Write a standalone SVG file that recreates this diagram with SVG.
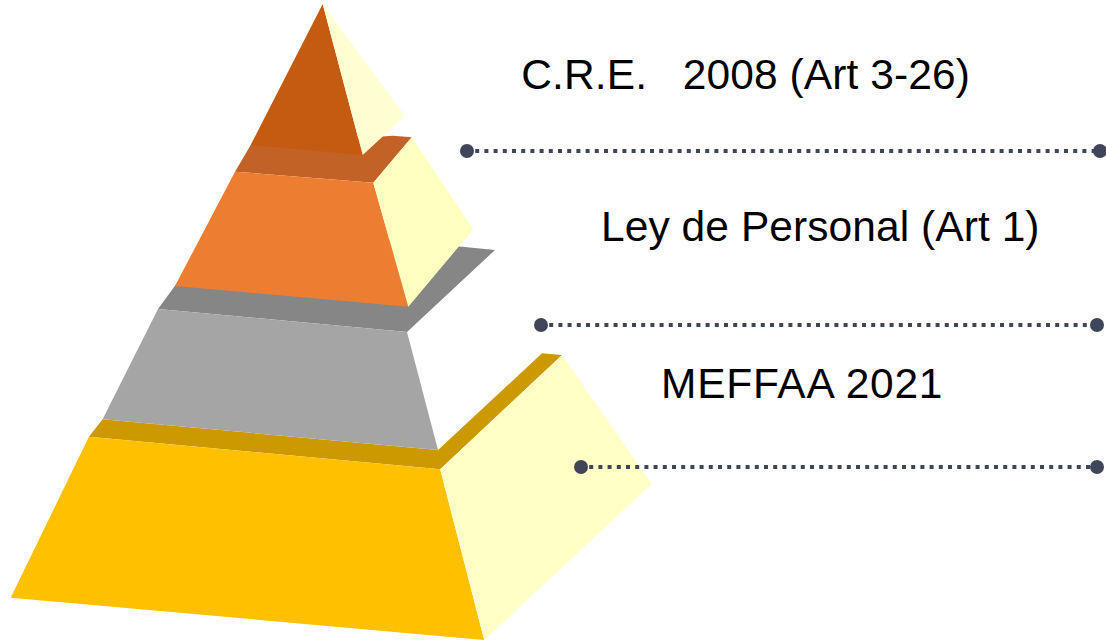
<svg xmlns="http://www.w3.org/2000/svg" width="1106" height="642" viewBox="0 0 1106 642">
  <style>
    .lbl { font-family: "Liberation Sans", Arial, sans-serif; font-size: 42.5px; fill: #000000; }
    .dotline { stroke: #404659; stroke-width: 4; stroke-dasharray: 4 5.2; fill: none; }
    .end { fill: #404659; }
  </style>
  <rect width="1106" height="642" fill="#ffffff"/>
  <g id="tier-base">
    <polygon points="102.6,419.3 438,450 542,353.3 562,355 440.2,469.3 88.9,436.7" fill="#CC9A00"/>
    <polygon points="88.9,436.7 440.2,469.3 484.2,640 10.7,597.7" fill="#FFC000"/>
    <polygon points="440.2,469.3 562,355 651.7,484 484.2,640" fill="#FFFFC6"/>
  </g>
  <g id="tier-gray">
    <polygon points="221,223 495,250 407,332 158,309" fill="#868686"/>
    <polygon points="158,309 407,332 438,450 102.6,419.3" fill="#A5A5A5"/>
  </g>
  <g id="tier-orange">
    <polygon points="250.7,145 393,135.7 411.7,137.3 373.3,182.7 235,171.7" fill="#C26226"/>
    <polygon points="235,171.7 373.3,182.7 408.3,306.7 175,286" fill="#ED7D31"/>
    <polygon points="373.3,182.7 411.7,137.3 473.3,229.3 408.3,306.7" fill="#FFFFC0"/>
  </g>
  <g id="tier-top">
    <polygon points="322.7,4 250.7,145 362.7,155" fill="#C55A11"/>
    <polygon points="322.7,4 405,116 362.7,155" fill="#FFFFD2"/>
  </g>
  <g id="connectors">
    <line class="dotline" x1="466" y1="151" x2="1100" y2="151"/>
    <circle class="end" cx="467" cy="151" r="7"/>
    <circle class="end" cx="1100" cy="151" r="7"/>
    <line class="dotline" x1="540" y1="325" x2="1097" y2="325"/>
    <circle class="end" cx="541" cy="325" r="7"/>
    <circle class="end" cx="1097" cy="325" r="7"/>
    <line class="dotline" x1="580" y1="467" x2="1097" y2="467"/>
    <circle class="end" cx="581" cy="467" r="7"/>
    <circle class="end" cx="1097" cy="467" r="7"/>
  </g>
  <g id="label-cre">
    <text class="lbl" y="88.5"><tspan x="521.3" textLength="125.7" lengthAdjust="spacing">C.R.E.</tspan><tspan x="682.8" textLength="287" lengthAdjust="spacing">2008 (Art 3-26)</tspan></text>
  </g>
  <g id="label-ley">
    <text class="lbl" x="601" y="240.5" textLength="438.5" lengthAdjust="spacing">Ley de Personal (Art 1)</text>
  </g>
  <g id="label-meffaa">
    <text class="lbl" x="661" y="397.5" textLength="281.5" lengthAdjust="spacing">MEFFAA 2021</text>
  </g>
</svg>
